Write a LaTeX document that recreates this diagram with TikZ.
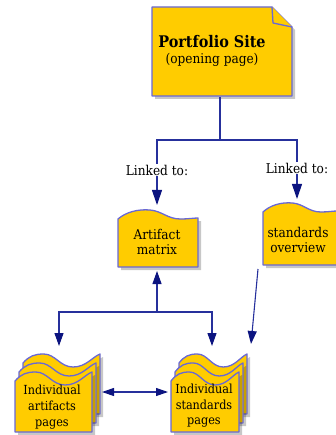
\documentclass[tikz,border=0pt]{standalone}
\usepackage{fontspec}
\setmainfont{DejaVu Serif Condensed}
\usetikzlibrary{arrows.meta}

\definecolor{pagefill}{RGB}{255,204,0}
\definecolor{pageedge}{RGB}{104,104,214}
\definecolor{linkblue}{RGB}{38,48,156}
\definecolor{tipblue}{RGB}{12,20,128}

% outline of a page with a wavy top, #1 = width, #2 = height
\newcommand{\wavepath}[2]{(0,#2) -- (0,9) .. controls (0.1*#1,2) and (0.25*#1,-1) .. (0.4*#1,0) .. controls (0.55*#1,1) and (0.62*#1,9) .. (0.78*#1,9) .. controls (0.88*#1,9) and (0.95*#1,8) .. (#1,8) -- (#1,#2) -- cycle}
\newcommand{\stackpath}[2]{(0,#2) -- (0,9) .. controls (0.08*#1,2) and (0.15*#1,0) .. (0.27*#1,0) .. controls (0.42*#1,0) and (0.48*#1,13) .. (0.65*#1,13) .. controls (0.82*#1,13) and (0.9*#1,3) .. (#1,0) -- (#1,#2) -- cycle}

\begin{document}
\begin{tikzpicture}[x=1pt,y=-1pt]
\tikzstyle{pagebox}=[fill=pagefill, draw=pageedge, line width=1.3pt, line join=round]
\tikzstyle{pageshadow}=[fill=black, opacity=0.22]
\tikzstyle{txt}=[font=\fontsize{13.5}{15}\selectfont, align=center, inner sep=1pt]
\tikzstyle{link}=[draw=linkblue, line width=1.1pt]
\tikzstyle{arr}=[link, -{Triangle[length=13pt,width=9pt,color=tipblue]}]
\tikzstyle{bigarr}=[link, -{Triangle[length=15pt,width=10pt,color=tipblue]}]
\useasboundingbox (0,0) rectangle (335,435);

% opening page with folded corner
\fill[pageshadow] (155,10) -- (275,10) -- (295,30) -- (295,99) -- (155,99) -- cycle;
\filldraw[pagebox] (152,7) -- (272,7) -- (292,27) -- (292,96) -- (152,96) -- cycle;
\filldraw[pagebox] (272,7) -- (273,23) -- (292,27);

% single pages
\begin{scope}[shift={(118,210)}]
\fill[pageshadow, shift={(3,3)}] \wavepath{80}{57};
\filldraw[pagebox] \wavepath{80}{57};
\end{scope}
\begin{scope}[shift={(263,203)}]
\fill[pageshadow, shift={(3,3)}] \wavepath{74}{62};
\filldraw[pagebox] \wavepath{74}{62};
\end{scope}

% stacks of pages
\foreach \sx/\wd in {15/77, 171/68}{
  \foreach \k in {2,1,0}{
    \begin{scope}[shift={(\sx+4*\k,372-9*\k)}]
    \fill[pageshadow, shift={(3,3)}] \stackpath{\wd}{60};
    \filldraw[pagebox] \stackpath{\wd}{60};
    \end{scope}
  }
}

% texts
\node (site) [txt] at (212,51) {{\fontsize{16}{18}\selectfont\bfseries Portfolio Site}\\[1pt](opening page)};
\node (link1) [txt] at (157,170) {Linked to:};
\node (link2) [txt] at (297,168) {Linked to:};
\node (matrix) [txt] at (157,242) {Artifact\\matrix};
\node (overview) [txt] at (298,240) {standards\\overview};
\node (artpages) [txt, font=\fontsize{12.5}{16}\selectfont] at (52,407) {Individual\\artifacts\\pages};
\node (stdpages) [txt, font=\fontsize{12.5}{15.5}\selectfont] at (204,406) {Individual\\standards\\pages};

% connection points on the shapes
\coordinate (sitebot) at (220,97);
\coordinate (fork) at (220,140);
\coordinate (matrixtop) at (157,205);
\coordinate (overtop) at (297,199);
\coordinate (matrixbot) at (157,271);
\coordinate (overbot) at (258,269);
\coordinate (join) at (157,312);
\coordinate (arttop) at (59,346);
\coordinate (stdtop) at (212,346);
\coordinate (stdtop2) at (251,344);
\coordinate (artright) at (102,392);
\coordinate (stdleft) at (168,392);

% connectors
\draw[link] (sitebot) -- (fork);
\draw[link] (link1.north) |- (fork) -| (link2.north);
\draw[bigarr] (link1.south) -- (matrixtop);
\draw[bigarr] (link2.south) -- (overtop);
\draw[arr] (join) -- (matrixbot);
\draw[arr] (join) -| (arttop);
\draw[arr] (join) -| (stdtop);
\draw[arr] (overbot) -- (stdtop2);
\draw[link, {Triangle[length=12pt,width=8pt,color=tipblue]}-{Triangle[length=12pt,width=8pt,color=tipblue]}] (artright) -- (stdleft);
\end{tikzpicture}
\end{document}
